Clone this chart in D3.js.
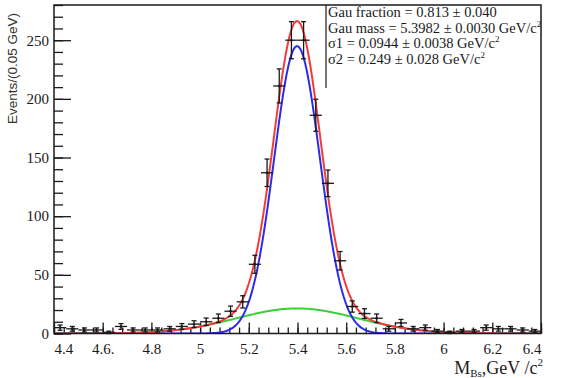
<!DOCTYPE html>
<html>
<head>
<meta charset="utf-8">
<script src="https://cdn.jsdelivr.net/npm/d3@7"></script>
<style>
  html, body { margin: 0; padding: 0; background: #fff; }
  svg { display: block; }
</style>
</head>
<body>
<div id="chart"></div>
<script>
// data: bin centres (GeV/c^2) and events per 0.05 GeV bin
const massBins = [
  4.425, 4.475, 4.525, 4.575, 4.625, 4.675, 4.725, 4.775, 4.825, 4.875,
  4.925, 4.975, 5.025, 5.075, 5.125, 5.175, 5.225, 5.275, 5.325, 5.375,
  5.425, 5.475, 5.525, 5.575, 5.625, 5.675, 5.725, 5.775, 5.825, 5.875,
  5.925, 5.975, 6.025, 6.075, 6.125, 6.175, 6.225, 6.275, 6.325, 6.375
];
const events = [
  5, 4, 3, 3, 1, 6, 3, 3, 3, 4,
  6, 8, 10, 13, 19, 27, 59, 137, 211, 250,
  250, 186, 128, 62, 23, 17, 13, 4, 9, 4,
  5, 2, 1, 2, 2, 5, 4, 4, 3, 2
];

// axis ticks
const xTicks = [4.4, 4.6, 4.8, 5.0, 5.2, 5.4, 5.6, 5.8, 6.0, 6.2, 6.4];
const xTickLabels = ['4.4', '4.6.', '4.8', '5', '5.2', '5.4', '5.6', '5.8', '6', '6.2', '6.4'];
const yTicks = [0, 50, 100, 150, 200, 250];

// fit result (double gaussian)
const gauFraction = [0.813, 0.040];
const gauMass = [5.3982, 0.0030];
const sigma1 = [0.0944, 0.0038];
const sigma2 = [0.249, 0.028];
const fitYield = [1426];

const config = {
  width: 561,
  height: 378,
  frame: { left: 54, right: 541, top: 5, bottom: 333.5 },
  binWidth: 0.05,
  xDomain: [4.4, 6.4],
  yDomain: [0, 280],
  serif: '"Liberation Serif", "Times New Roman", serif',
  sans: '"Liberation Sans", Arial, sans-serif',
  ink: '#1a1a1a',
  colors: { total: '#f23c3c', narrow: '#2b2bea', wide: '#3ccf3c' }
};

const svg = d3.select('#chart').append('svg')
  .attr('width', config.width)
  .attr('height', config.height);

const f = config.frame;
const x = d3.scaleLinear().domain(config.xDomain).range([f.left, f.right]);
const y = d3.scaleLinear().domain(config.yDomain).range([f.bottom, f.top]);

svg.append('clipPath').attr('id', 'plot-clip')
  .append('rect')
  .attr('x', f.left).attr('y', f.top)
  .attr('width', f.right - f.left).attr('height', f.bottom - f.top);

// ---- axes ----
const xMinor = d3.range(0, 51).map(i => 4.4 + i * 0.04);
svg.append('g')
  .attr('transform', `translate(0,${f.bottom})`)
  .call(d3.axisBottom(x).tickValues(xMinor).tickSize(-6).tickSizeOuter(0).tickFormat(''))
  .call(g => g.select('.domain').remove());

const xAxis = svg.append('g')
  .attr('transform', `translate(0,${f.bottom})`)
  .call(d3.axisBottom(x).tickValues(xTicks).tickSize(-11).tickSizeOuter(0).tickPadding(10)
    .tickFormat((d, i) => xTickLabels[i]))
  .call(g => g.select('.domain').remove());
xAxis.selectAll('text')
  .attr('font-family', config.serif).attr('font-size', 15).attr('fill', config.ink)
  .attr('text-anchor', (d, i) => i === 0 ? 'start' : i === xTicks.length - 1 ? 'end' : 'middle');

const yMinor = d3.range(0, 29).map(i => i * 10);
svg.append('g')
  .attr('transform', `translate(${f.left},0)`)
  .call(d3.axisLeft(y).tickValues(yMinor).tickSize(-9).tickSizeOuter(0).tickFormat(''))
  .call(g => g.select('.domain').remove());

const yAxis = svg.append('g')
  .attr('transform', `translate(${f.left},0)`)
  .call(d3.axisLeft(y).tickValues(yTicks).tickSize(-17).tickSizeOuter(0).tickPadding(5))
  .call(g => g.select('.domain').remove());
yAxis.selectAll('text')
  .attr('font-family', config.serif).attr('font-size', 15).attr('fill', config.ink);

svg.selectAll('.tick line').attr('stroke', config.ink).attr('stroke-width', 1.3);

// ---- fit curves ----
const gauss = (m, mu, s) => Math.exp(-0.5 * ((m - mu) / s) ** 2) / (s * Math.sqrt(2 * Math.PI));
const norm = fitYield[0] * config.binWidth;
const narrow = m => norm * gauFraction[0] * gauss(m, gauMass[0], sigma1[0]);
const wide = m => norm * (1 - gauFraction[0]) * gauss(m, gauMass[0], sigma2[0]);
const total = m => narrow(m) + wide(m);

const samples = d3.range(0, 401).map(i => 4.4 + i * 0.005);
const curves = svg.append('g').attr('clip-path', 'url(#plot-clip)');
[[wide, config.colors.wide], [narrow, config.colors.narrow], [total, config.colors.total]]
  .forEach(([fn, color]) => {
    curves.append('path')
      .datum(samples)
      .attr('fill', 'none')
      .attr('stroke', color)
      .attr('stroke-width', 2)
      .attr('stroke-linejoin', 'round')
      .attr('d', d3.line().x(d => x(d)).y(d => y(fn(d))));
  });

// ---- data points ----
const pts = svg.append('g')
  .selectAll('g')
  .data(massBins.map((m, i) => ({ m, n: events[i] })))
  .enter().append('g')
  .attr('stroke', config.ink)
  .attr('stroke-width', 1.3);

const errLo = d => d.n - Math.sqrt(d.n);
const errHi = d => d.n + Math.sqrt(d.n);

pts.append('line')
  .attr('x1', d => x(d.m)).attr('x2', d => x(d.m))
  .attr('y1', d => y(errLo(d))).attr('y2', d => y(errHi(d)));
pts.append('line')
  .attr('x1', d => x(d.m - config.binWidth / 2)).attr('x2', d => x(d.m + config.binWidth / 2))
  .attr('y1', d => y(d.n)).attr('y2', d => y(d.n));
pts.append('line')
  .attr('x1', d => x(d.m) - 2.5).attr('x2', d => x(d.m) + 2.5)
  .attr('y1', d => y(errHi(d))).attr('y2', d => y(errHi(d)));
pts.append('line')
  .attr('x1', d => x(d.m) - 2.5).attr('x2', d => x(d.m) + 2.5)
  .attr('y1', d => y(errLo(d))).attr('y2', d => y(errLo(d)));
pts.append('circle')
  .attr('cx', d => x(d.m)).attr('cy', d => y(d.n))
  .attr('r', 1.3).attr('fill', config.ink).attr('stroke', 'none');

// ---- frame ----
svg.append('rect')
  .attr('x', f.left).attr('y', f.top)
  .attr('width', f.right - f.left).attr('height', f.bottom - f.top)
  .attr('fill', 'none')
  .attr('stroke', config.ink)
  .attr('stroke-width', 1.5);

// ---- parameter box ----
const box = svg.append('g');
box.append('rect')
  .attr('x', 326).attr('y', f.top + 1)
  .attr('width', f.right - 326 - 1).attr('height', 82)
  .attr('fill', '#fff');
box.append('line')
  .attr('x1', 326).attr('x2', 326).attr('y1', f.top).attr('y2', 88)
  .attr('stroke', config.ink).attr('stroke-width', 1.2);

const fmt3 = d3.format('.3f');
const fmt4 = d3.format('.4f');
const boxLines = [
  { text: `Gau fraction = ${fmt3(gauFraction[0])} \u00b1 ${fmt3(gauFraction[1])}`, unit: false },
  { text: `Gau mass = ${fmt4(gauMass[0])} \u00b1 ${fmt4(gauMass[1])} GeV/c`, unit: true },
  { text: `\u03c31 = ${fmt4(sigma1[0])} \u00b1 ${fmt4(sigma1[1])} GeV/c`, unit: true },
  { text: `\u03c32 = ${fmt3(sigma2[0])} \u00b1 ${fmt3(sigma2[1])} GeV/c`, unit: true }
];
boxLines.forEach((l, i) => {
  const t = box.append('text')
    .attr('x', 328).attr('y', 17 + i * 15.5)
    .attr('font-family', config.serif).attr('font-size', 14.5)
    .attr('fill', config.ink)
    .text(l.text);
  if (l.unit) {
    t.append('tspan').attr('dy', -6).attr('font-size', 9).text('2');
  }
});

// ---- axis titles ----
const xTitle = svg.append('text')
  .attr('x', 543).attr('y', 374)
  .attr('text-anchor', 'end')
  .attr('font-family', config.serif).attr('font-size', 18)
  .attr('fill', config.ink);
xTitle.append('tspan').text('M');
xTitle.append('tspan').attr('dy', 3).attr('font-size', 11).text('Bs');
xTitle.append('tspan').attr('dy', -3).text(',GeV /c');
xTitle.append('tspan').attr('dy', -8).attr('font-size', 11).text('2');

svg.append('text')
  .attr('transform', 'translate(17,13) rotate(-90)')
  .attr('text-anchor', 'end')
  .attr('font-family', config.sans).attr('font-size', 13.5)
  .attr('fill', '#333')
  .text('Events/(0.05 GeV)');
</script>
</body>
</html>
